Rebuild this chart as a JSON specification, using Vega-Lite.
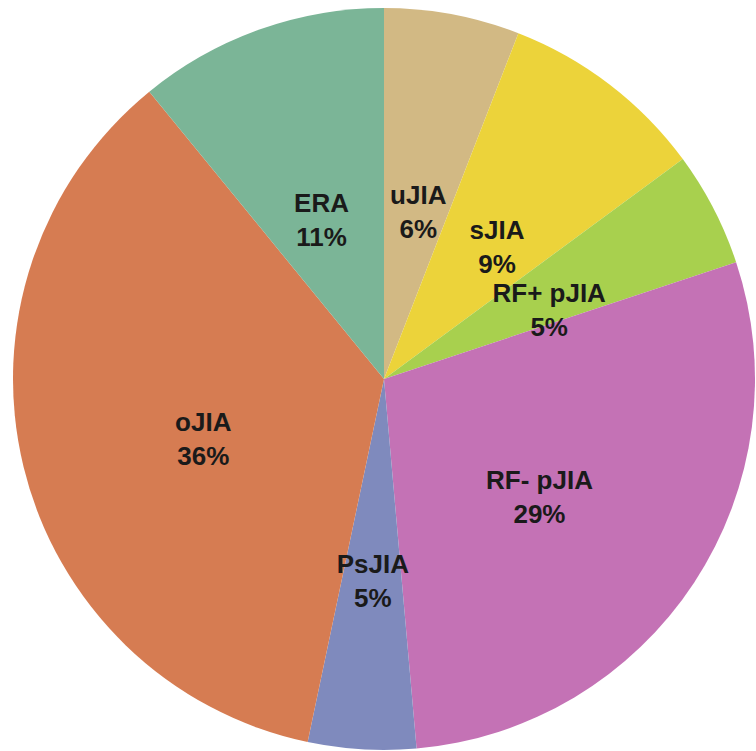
{
  "$schema": "https://vega.github.io/schema/vega-lite/v6.json",
  "width": 744,
  "height": 744,
  "padding": {"left": 12, "top": 7, "right": 0, "bottom": 0},
  "autosize": {"type": "none"},
  "background": "white",
  "view": {"stroke": null},
  "data": {
    "values": [
      {"idx": 1, "group": "uJIA", "value": 5.9, "label": "uJIA\n6%"},
      {"idx": 2, "group": "sJIA", "value": 9.0, "label": "sJIA\n9%"},
      {"idx": 3, "group": "RF+ pJIA", "value": 5.0, "label": "RF+ pJIA\n5%"},
      {"idx": 4, "group": "RF- pJIA", "value": 28.7, "label": "RF- pJIA\n29%"},
      {"idx": 5, "group": "PsJIA", "value": 4.7, "label": "PsJIA\n5%"},
      {"idx": 6, "group": "oJIA", "value": 35.8, "label": "oJIA\n36%"},
      {"idx": 7, "group": "ERA", "value": 10.9, "label": "ERA\n11%"}
    ]
  },
  "encoding": {
    "theta": {"field": "value", "type": "quantitative", "stack": true},
    "order": {"field": "idx", "type": "quantitative"}
  },
  "layer": [
    {
      "mark": {"type": "arc", "outerRadius": 371},
      "encoding": {
        "color": {
          "field": "group",
          "type": "nominal",
          "legend": null,
          "scale": {
            "domain": ["uJIA", "sJIA", "RF+ pJIA", "RF- pJIA", "PsJIA", "oJIA", "ERA"],
            "range": ["#d2b984", "#ecd33a", "#a8d04e", "#c472b5", "#7f8abd", "#d67c52", "#7bb597"]
          }
        }
      }
    },
    {
      "mark": {
        "type": "text",
        "radius": 186,
        "font": "Liberation Sans",
        "fontWeight": "bold",
        "fontSize": 26,
        "lineBreak": "\n",
        "lineHeight": 34,
        "color": "#1a1a1a",
        "align": "center",
        "baseline": "middle"
      },
      "encoding": {
        "text": {"field": "label", "type": "nominal"}
      }
    }
  ]
}
